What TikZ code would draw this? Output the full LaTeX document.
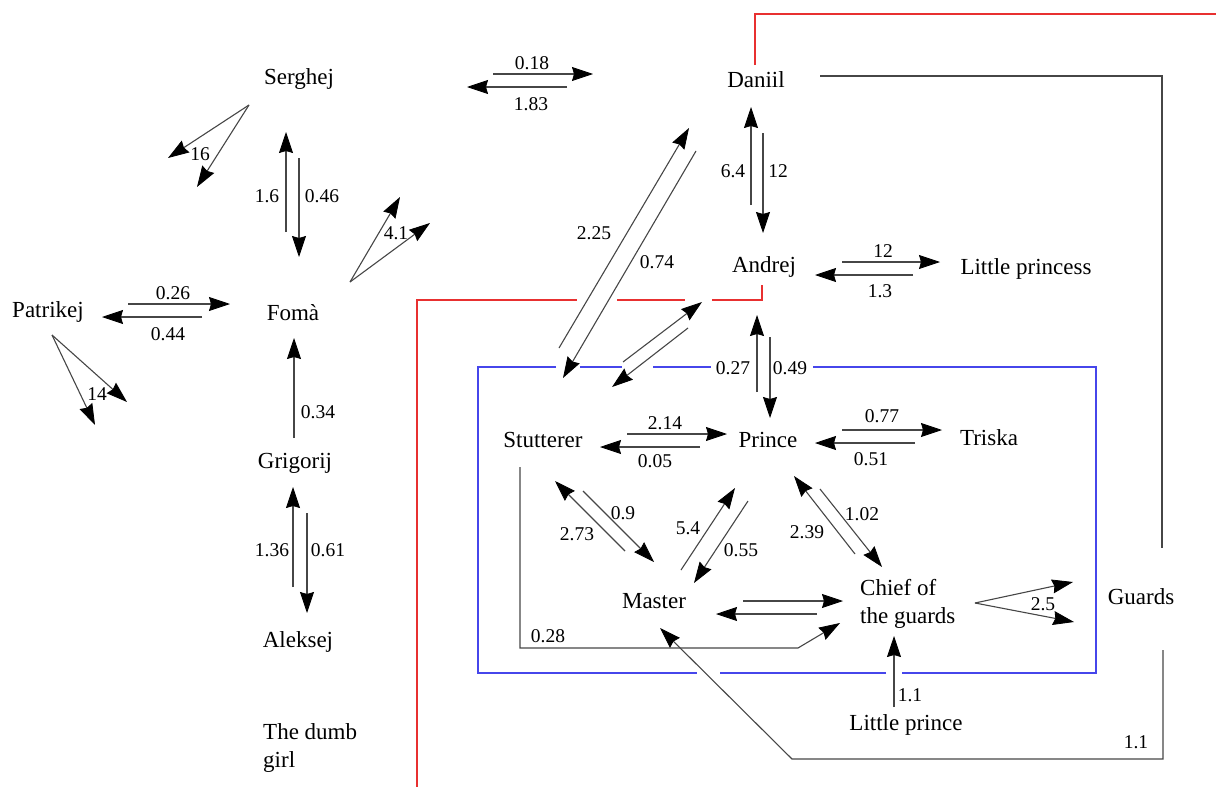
\documentclass[tikz,border=0pt]{standalone}
\usepackage{fontspec}
\setmainfont{Liberation Serif}
\usetikzlibrary{arrows.meta}
\definecolor{lc}{RGB}{70,70,70}
\definecolor{rl}{RGB}{232,48,48}
\definecolor{bl}{RGB}{70,70,235}
\tikzset{
  nm/.style={font=\fontsize{23}{28}\selectfont, inner sep=0pt, anchor=base},
  nb/.style={font=\fontsize{19.5}{22}\selectfont, inner sep=0pt, anchor=base},
  ln/.style={draw=lc, line width=1.1pt},
  arr/.style={ln, -{Stealth[length=21pt,width=14pt,inset=2pt,color=black,fill=black,line width=0.8pt]}},
  redl/.style={draw=rl, line width=1.4pt},
  bluel/.style={draw=bl, line width=1.3pt}
}
\begin{document}
\begin{tikzpicture}[x=1pt,y=-1pt]
\useasboundingbox (0,0) rectangle (1216,787);
% names
\node[nm] (ser) at (299,84) {Serghej};
\node[nm] (pat) at (48,317) {Patrikej};
\node[nm] (fom) at (293,320) {Fomà};
\node[nm] (gri) at (295,468) {Grigorij};
\node[nm] (ale) at (298,647) {Aleksej};
\node[nm, anchor=north west, align=left] (dum) at (263,723) {The dumb\\girl};
\node[nm] (dan) at (756,87) {Daniil};
\node[nm] (and) at (764,272) {Andrej};
\node[nm] (lps) at (1026,274) {Little princess};
\node[nm] (stu) at (543,447) {Stutterer};
\node[nm] (pri) at (768,447) {Prince};
\node[nm] (tri) at (989,445) {Triska};
\node[nm] (mas) at (654,608) {Master};
\node[nm, anchor=north west, align=left] (chi) at (860,579) {Chief of\\the guards};
\node[nm] (gua) at (1141,604) {Guards};
\node[nm] (lpr) at (906,730) {Little prince};

% red and blue frames
\draw[redl] (417,787) -- (417,300) -- (577,300);
\draw[redl] (617,300) -- (685,300);
\draw[redl] (712,300) -- (762,300) -- (762,285);
\draw[redl] (755,65) -- (755,14) -- (1216,14);
\draw[bluel] (556,367) -- (478,367) -- (478,673) -- (697,673);
\draw[bluel] (580,367) -- (622,367);
\draw[bluel] (653,367) -- (711,367);
\draw[bluel] (813,367) -- (1096,367) -- (1096,673) -- (902,673);
\draw[bluel] (886,673) -- (720,673);

% Serghej fork
\draw[arr] (249,105) -- (168,158);
\draw[arr] (249,105) -- (197,187);
\node[nb] (l16) at (200,160) {16};
% Serghej - Foma
\draw[arr] (286,232) -- (286,132);
\draw[arr] (299,158) -- (299,257);
\node[nb] (l16b) at (267,202) {1.6};
\node[nb] (l046) at (322,202) {0.46};
% Foma fork
\draw[arr] (350,282) -- (400,197);
\draw[arr] (350,282) -- (430,223);
\node[nb] (l41) at (396,239) {4.1};
% Patrikej - Foma
\draw[arr] (128,304) -- (230,304);
\draw[arr] (202,317) -- (102,317);
\node[nb] (l026) at (173,299) {0.26};
\node[nb] (l044) at (168,340) {0.44};
% Patrikej fork
\draw[arr] (52,335) -- (95,425);
\draw[arr] (52,335) -- (127,402);
\node[nb] (l14) at (97,400) {14};
% Grigorij - Foma
\draw[arr] (294,438) -- (294,338);
\node[nb] (l034) at (318,418) {0.34};
% Grigorij - Aleksej
\draw[arr] (293,587) -- (293,487);
\draw[arr] (307,513) -- (307,613);
\node[nb] (l136) at (272,556) {1.36};
\node[nb] (l061) at (328,556) {0.61};
% top pair
\draw[arr] (493,74) -- (593,74);
\draw[arr] (567,87) -- (467,87);
\node[nb] (l018) at (532,69) {0.18};
\node[nb] (l183) at (531,110) {1.83};
% Daniil - Andrej
\draw[arr] (751,205) -- (751,107);
\draw[arr] (763,133) -- (763,233);
\node[nb] (l64) at (733,177) {6.4};
\node[nb] (l12a) at (778,177) {12};
% Stutterer - Daniil
\draw[arr] (559,348) -- (689,128);
\draw[arr] (696,151) -- (563,378);
\node[nb] (l225) at (594,239) {2.25};
\node[nb] (l074) at (657,268) {0.74};
% Andrej - Prince area short diagonals
\draw[arr] (623,362) -- (702,302);
\draw[arr] (688,328) -- (612,387);
% Andrej - Prince
\draw[arr] (757,392) -- (757,315);
\draw[arr] (770,337) -- (770,418);
\node[nb] (l027) at (733,374) {0.27};
\node[nb] (l049) at (790,374) {0.49};
% Andrej - Little princess
\draw[arr] (842,262) -- (940,262);
\draw[arr] (913,275) -- (815,275);
\node[nb] (l12b) at (883,257) {12};
\node[nb] (l13) at (880,297) {1.3};
% Stutterer - Prince
\draw[arr] (627,434) -- (727,434);
\draw[arr] (700,447) -- (600,447);
\node[nb] (l214) at (665,429) {2.14};
\node[nb] (l005) at (655,467) {0.05};
% Prince - Triska
\draw[arr] (842,430) -- (942,430);
\draw[arr] (915,443) -- (815,443);
\node[nb] (l077) at (882,422) {0.77};
\node[nb] (l051) at (871,465) {0.51};
% Stutterer - Master
\draw[arr] (625,551) -- (555,481);
\draw[arr] (583,491) -- (654,562);
\node[nb] (l273) at (577,540) {2.73};
\node[nb] (l09) at (623,519) {0.9};
% Master - Prince
\draw[arr] (681,570) -- (735,488);
\draw[arr] (748,501) -- (694,583);
\node[nb] (l54) at (688,534) {5.4};
\node[nb] (l055) at (741,556) {0.55};
% Prince - Chief
\draw[arr] (855,554) -- (794,476);
\draw[arr] (820,489) -- (882,567);
\node[nb] (l239) at (807,538) {2.39};
\node[nb] (l102) at (862,520) {1.02};
% Master - Chief
\draw[arr] (743,601) -- (843,601);
\draw[arr] (817,614) -- (716,614);
% Stutterer -> Chief
\draw[arr] (520,467) -- (520,648) -- (798,648) -- (840,623);
\node[nb] (l028) at (548,642) {0.28};
% Chief -> Guards fork
\draw[arr] (975,603) -- (1073,582);
\draw[arr] (975,603) -- (1074,622);
\node[nb] (l25) at (1043,610) {2.5};
% Little prince -> Chief
\draw[arr] (894,707) -- (894,636);
\node[nb] (l11a) at (910,701) {1.1};
% Guards -> Master
\draw[arr] (1163,650) -- (1163,759) -- (792,759) -- (660,628);
\node[nb] (l11b) at (1136,748) {1.1};
% Daniil - Guards
\draw[ln] (820,76) -- (1162,76) -- (1162,548);
\end{tikzpicture}
\end{document}
